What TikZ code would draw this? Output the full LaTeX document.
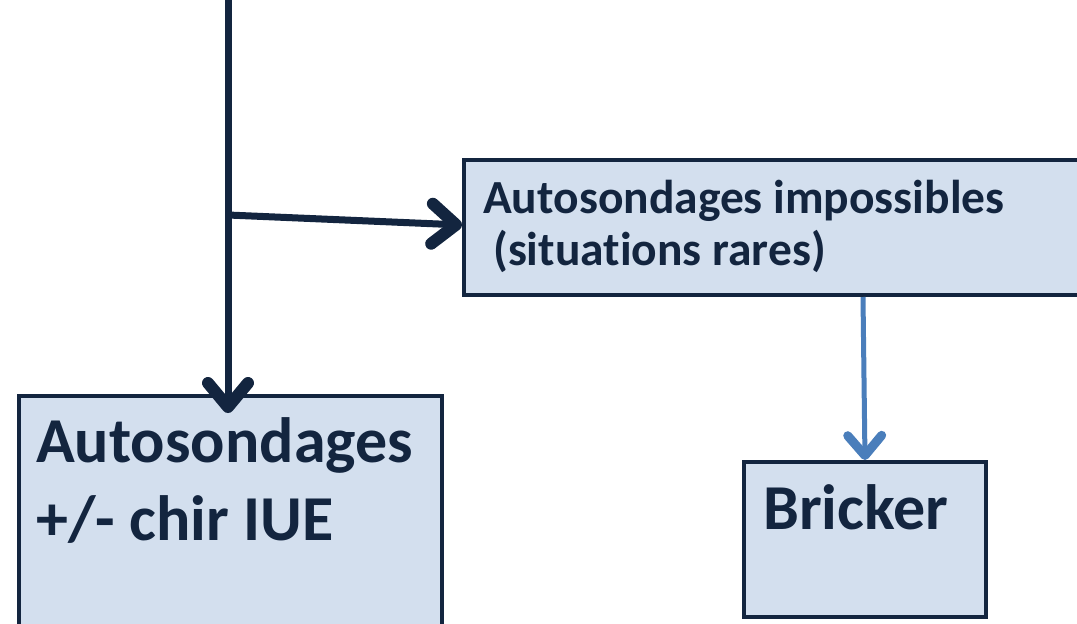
\documentclass[tikz,border=0pt]{standalone}
\usepackage{fontspec}
\setmainfont[Ligatures=NoCommon]{Carlito}
\usetikzlibrary{arrows.meta}
\definecolor{navy}{HTML}{13253F}
\definecolor{boxfill}{HTML}{D3DFEE}
\definecolor{linkblue}{HTML}{4A7EBB}
\tikzset{
  box/.style={draw=navy, line width=4pt, fill=boxfill, rectangle, inner sep=0pt},
  boxtext/.style={anchor=base west, inner sep=0pt, text=navy},
  small/.style={font=\bfseries\fontsize{47.5}{52}\selectfont},
  big/.style={font=\bfseries\fontsize{64}{70}\selectfont},
  link/.style={navy, line width=7pt, -{Straight Barb[length=24pt,width=40pt,line width=12pt,line cap=round,line join=round]}},
  sublink/.style={linkblue, line width=5pt, -{Straight Barb[length=20pt,width=34pt,line width=9pt,line cap=round,line join=round]}}
}
\begin{document}
\begin{tikzpicture}[x=1pt, y=-1pt]
  \useasboundingbox (0,0) rectangle (1077,624);
  \clip (0,0) rectangle (1077,624);
  % Boxes
  \node [box, anchor=north west, minimum width=640pt, minimum height=135pt] (rare) at (462,158) {};
  \node [box, anchor=north west, minimum width=423pt, minimum height=260pt] (auto) at (17,394) {};
  \node [box, anchor=north west, minimum width=242pt, minimum height=155pt] (bricker) at (742,460) {};
  % Texts
  \node [boxtext, small] (rareA) at (483,213) {Autosondages impossibles};
  \node [boxtext, small] (rareB) at (493,265) {(situations rares)};
  \node [boxtext, big] (autoA) at (36,462) {Autosondages};
  \node [boxtext, big] (autoB) at (36,540) {+/- chir IUE};
  \node [boxtext, big] (brickerA) at (763,529) {Bricker};
  % Connectors
  \coordinate (top) at (228,-5);
  \coordinate (split) at (228,215);
  \coordinate (autoIn) at (228,413);
  \draw [link] (top) -- (autoIn);
  \draw [link] (split) -- (rare.west |- 0,225);
  \draw [sublink] (rare.south -| 863,0) -- (bricker.north);
\end{tikzpicture}
\end{document}
